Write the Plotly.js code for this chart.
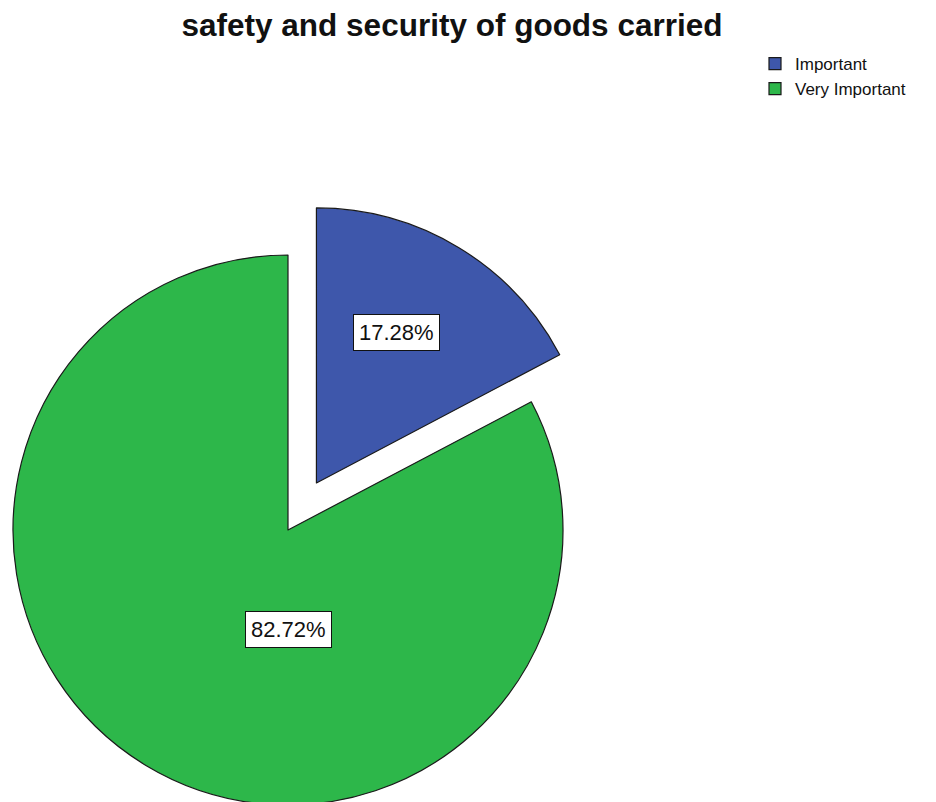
<!DOCTYPE html>
<html>
<head>
<meta charset="utf-8">
<script src="https://cdn.plot.ly/plotly-3.0.1.min.js"></script>
<style>
  html, body { margin: 0; padding: 0; overflow: hidden; background: #fff; width: 936px; height: 802px; }
  #chart { position: absolute; left: -42px; top: 0; }
</style>
</head>
<body>
<div id="chart"></div>
<script>
// ---- data ----
const categories = ["Important", "Very Important"];
const counts = [14, 67];
const sliceColors = ["#3E57AB", "#2DB74A"];
const pulls = [0.2, 0];
const chartTitle = "safety and security of goods carried";

// ---- geometry (div larger than the page so the pulled pie keeps its size) ----
const W = 978, H = 860;
const M = { l: 0, r: 0, t: 200, b: 0, autoexpand: false };
const plotW = W - M.l - M.r, plotH = H - M.t - M.b;
const box = plotH;                 // square pie box
const domX = [0, box / plotW];

const total = counts.reduce((a, b) => a + b, 0);
const pctText = counts.map(v => (100 * v / total).toFixed(2) + "%");

// pie centre and radius as Plotly computes them
const maxPull = Math.max(...pulls);
const cx = M.l + plotW * (domX[0] + domX[1]) / 2;
const cy = M.t + plotH / 2;
const R = (box / 2) / (1 + maxPull);

// label positions derived from the slice angles (clockwise from 12 o'clock)
const labelFrac = [0.62, 0.36];
let start = 0;
const annotations = counts.map((v, i) => {
  const sweep = 360 * v / total;
  const mid = start + sweep / 2;
  start += sweep;
  const pr = pulls[i] * R;
  const ax = cx + pr * Math.sin(mid * Math.PI / 180);
  const ay = cy - pr * Math.cos(mid * Math.PI / 180);
  const ang = i === 0 ? mid - 3 : 180;
  const px = ax + labelFrac[i] * R * Math.sin(ang * Math.PI / 180);
  const py = ay - labelFrac[i] * R * Math.cos(ang * Math.PI / 180);
  return {
    xref: "paper", yref: "paper",
    x: (px - M.l) / plotW, y: 1 - (py - M.t) / plotH,
    text: pctText[i], showarrow: false,
    xanchor: "center", yanchor: "middle",
    font: { family: "Liberation Sans, Arial, sans-serif", size: 22, color: "#111" },
    bgcolor: "#ffffff", bordercolor: "#111", borderwidth: 1, borderpad: 5
  };
});

const trace = {
  type: "pie",
  labels: categories,
  values: counts,
  sort: false,
  direction: "clockwise",
  rotation: 0,
  pull: pulls,
  textinfo: "none",
  hoverinfo: "label+percent",
  marker: { colors: sliceColors, line: { color: "#1a1a1a", width: 1.2 } },
  domain: { x: domX, y: [0, 1] },
  showlegend: true
};

const layout = {
  width: W, height: H,
  margin: M,
  paper_bgcolor: "#fff",
  plot_bgcolor: "#fff",
  title: {
    text: chartTitle,
    font: { family: "Liberation Sans, Arial, sans-serif", size: 31.5, weight: 700, color: "#111" },
    xref: "container", yref: "container",
    x: (452 + 42) / W, xanchor: "center",
    y: 1 - 25 / H, yanchor: "middle"
  },
  legend: {
    xref: "container", yref: "container",
    x: (755 + 42) / W, xanchor: "left",
    y: 1 - 46 / H, yanchor: "top",
    font: { family: "Liberation Sans, Arial, sans-serif", size: 17, color: "#111" },
    bgcolor: "rgba(0,0,0,0)",
    itemwidth: 30,
    tracegroupgap: 0
  },
  annotations: annotations
};

Plotly.newPlot("chart", [trace], layout, { displayModeBar: false, staticPlot: true });
</script>
</body>
</html>
